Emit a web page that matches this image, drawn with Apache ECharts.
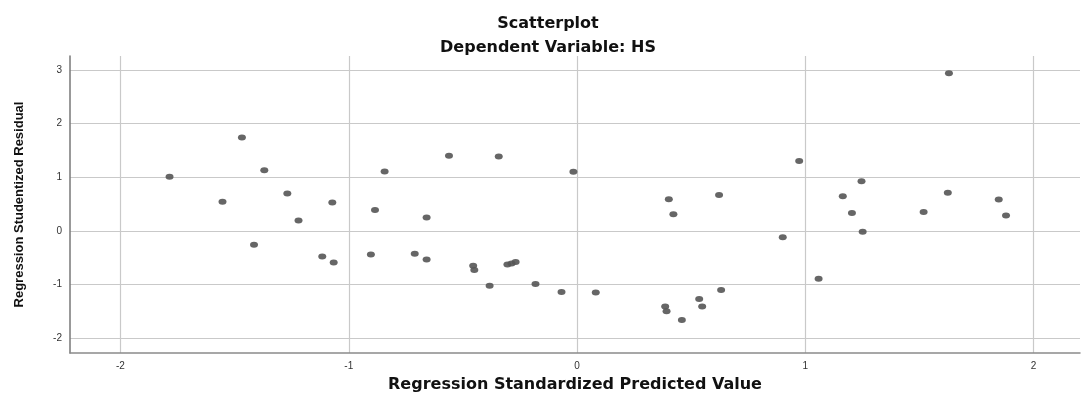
<!DOCTYPE html>
<html>
<head>
<meta charset="utf-8">
<script src="https://cdn.jsdelivr.net/npm/echarts@6/dist/echarts.min.js"></script>
<style>html,body{margin:0;padding:0;background:#fff;}#c{width:1082px;height:394px;}</style>
</head>
<body>
<div id="c"></div>
<script>
const titleText = 'Scatterplot';
const subtitleText = 'Dependent Variable: HS';
const xName = 'Regression Standardized Predicted Value';
const yName = 'Regression Studentized Residual';
const xTicks = [-2, -1, 0, 1, 2];
const yTicks = [-2, -1, 0, 1, 2, 3];
const predicted = [-1.785, -1.468, -1.370, -1.553, -1.269, -1.072, -1.220, -1.415, -1.116, -1.066,
  -0.843, -0.561, -0.343, -0.016, -0.885, -0.659, -0.903, -0.711, -0.659, -0.455, -0.450, -0.305, -0.287, -0.269, -0.383, -0.182, -0.068,
  0.402, 0.422, 0.622, 0.082, 0.631, 0.535, 0.548, 0.386, 0.392, 0.459,
  1.629, 0.973, 1.246, 1.164, 1.204, 1.251, 1.624, 1.518, 1.847, 1.879, 0.901, 1.058];
const residual = [1.01, 1.74, 1.13, 0.54, 0.695, 0.53, 0.19, -0.26, -0.48, -0.59,
  1.105, 1.40, 1.385, 1.10, 0.39, 0.25, -0.44, -0.43, -0.535, -0.65, -0.73, -0.63, -0.61, -0.58, -1.025, -0.99, -1.14,
  0.59, 0.31, 0.67, -1.15, -1.105, -1.27, -1.41, -1.41, -1.50, -1.665,
  2.94, 1.30, 0.925, 0.645, 0.33, -0.02, 0.71, 0.35, 0.585, 0.285, -0.12, -0.895];

const points = predicted.map((x, i) => [x, residual[i]]);
const chart = echarts.init(document.getElementById('c'), null, {renderer: 'canvas'});
chart.setOption({
  backgroundColor: '#ffffff',
  animation: false,
  title: [
    {text: titleText, left: 543, top: 11, textAlign: 'center',
     textStyle: {fontFamily: 'DejaVu Sans', fontWeight: 'bold', fontSize: 16, color: '#111'}},
    {text: subtitleText, left: 543, top: 35, textAlign: 'center',
     textStyle: {fontFamily: 'DejaVu Sans', fontWeight: 'bold', fontSize: 16, color: '#111'}}
  ],
  grid: {left: 70, right: 2, top: 56, bottom: 41, containLabel: false, outerBoundsMode: 'none'},
  xAxis: {
    type: 'value', min: -2.221, max: 2.203,
    name: xName, nameLocation: 'middle', nameGap: 24,
    nameTextStyle: {fontFamily: 'DejaVu Sans', fontWeight: 'bold', fontSize: 16, color: '#111'},
    axisLine: {show: true, onZero: false, lineStyle: {color: '#8a8a8a', width: 1.5}},
    axisTick: {show: false, customValues: xTicks},
    axisLabel: {customValues: xTicks, fontFamily: 'Liberation Sans', fontSize: 10, color: '#333', margin: 8},
    splitLine: {show: true, lineStyle: {color: '#c9c9c9', width: 1.2}}
  },
  yAxis: {
    type: 'value', min: -2.279, max: 3.26,
    name: yName, nameLocation: 'middle', nameGap: 44, nameRotate: 90,
    nameTextStyle: {fontFamily: 'Liberation Sans', fontWeight: 'bold', fontSize: 13, color: '#111'},
    axisLine: {show: true, onZero: false, lineStyle: {color: '#777', width: 1.5}},
    axisTick: {show: false, customValues: yTicks},
    axisLabel: {customValues: yTicks, fontFamily: 'Liberation Sans', fontSize: 10, color: '#333', margin: 8},
    splitLine: {show: true, lineStyle: {color: '#c9c9c9', width: 1.2}}
  },
  series: [{
    type: 'scatter',
    data: points,
    symbol: 'circle',
    symbolSize: [8, 6],
    itemStyle: {color: '#555555', opacity: 0.9}
  }]
});
</script>
</body>
</html>
